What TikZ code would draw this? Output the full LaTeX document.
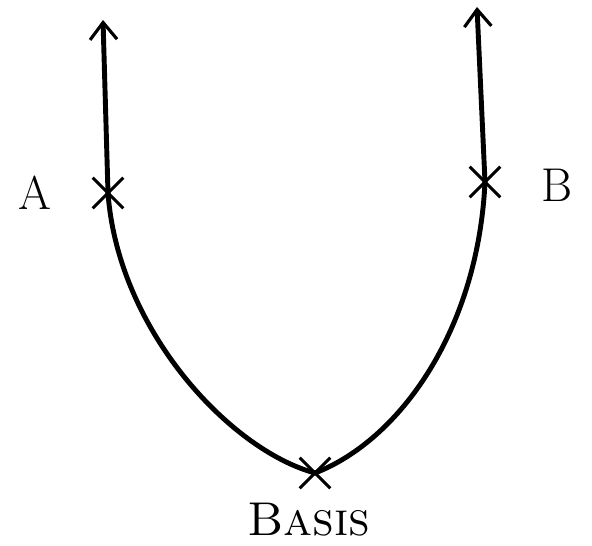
\documentclass[tikz,border=0pt]{standalone}
\usepackage{tikz}
\usetikzlibrary{arrows.meta,shapes.misc}

\begin{document}
\begin{tikzpicture}[
            x=0.02cm,y=-0.02cm,
            crossmark/.style={cross out,draw,line width=1.8pt,minimum size=0.55cm,inner sep=0pt},
            branch/.style={line width=2.8pt,line cap=round},
            arrow/.style={branch,-{Straight Barb[length=3.4mm,width=5.4mm,line width=1.8pt]}},
            tag/.style={font=\fontsize{27}{30}\selectfont}
        ]
            \useasboundingbox (0,0) rectangle (592,546);
            \node[crossmark] (A) at (108,193) {};
            \node[crossmark] (B) at (485,182) {};
            \node[crossmark] (basis) at (315,473) {};
            \coordinate (topA) at (103,20);
            \coordinate (topB) at (477,7);
            \node[tag] (labA) at (35,193) {A};
            \node[tag] (labB) at (557,185) {B};
            \node[tag] (labBasis) at (309,520) {\textsc{Basis}};
            \draw[arrow] (A.center) -- (topA);
            \draw[arrow] (B.center) -- (topB);
            \draw[branch] (A.center) .. controls (118,330) and (230,450) .. (basis.center)
                .. controls (400,440) and (478,330) .. (B.center);
        \end{tikzpicture}
\end{document}
